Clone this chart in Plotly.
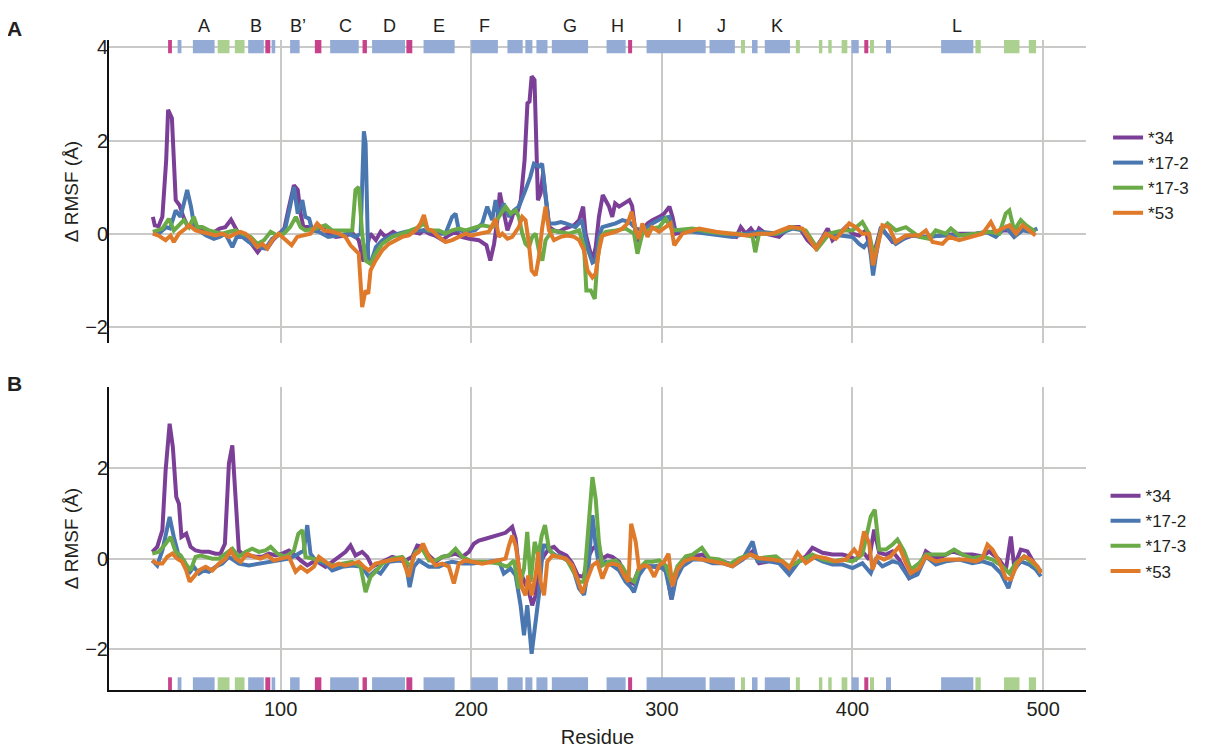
import plotly.graph_objects as go

# ---------------- Panel A data (residue, delta RMSF) ----------------
a34_x = [33, 34, 36, 38, 40, 41, 43, 44, 45, 47, 49, 51, 54, 57, 61, 64, 68, 71, 74, 76, 78, 82, 85, 88, 90, 93, 96, 99, 102, 104, 107, 109, 110.5, 112, 115, 118, 122, 125, 129, 134, 138, 141, 143.5, 147, 150, 152.5, 155, 159, 162, 166, 169, 173, 175, 178, 181, 185, 188, 192, 195, 199, 204, 208, 210, 212, 213.7, 215, 217, 219, 221, 222.5, 224, 226, 228, 229.5, 230.6, 231.7, 233.2, 234, 235, 236.4, 237.7, 239, 241, 243.5, 246, 249, 251, 254, 256.6, 258.7, 260, 262, 263.6, 265.3, 267, 269, 270.6, 272.3, 274, 275.5, 277.6, 280.2, 283, 284.4, 286.3, 288, 290, 292.5, 295, 298.6, 301.2, 304, 305.6, 307.4, 316, 325, 334, 339, 341.4, 344, 346.7, 349.3, 351, 354.5, 361.5, 367, 372, 376.4, 381, 384.3, 387, 389.5, 393, 396.5, 400, 403.5, 407, 410.5, 412.2, 415, 417.5, 421, 424.5, 431.5, 438.5, 445.5, 456, 464.7, 473.4, 478.7, 484, 489, 492.7, 496]
a34_y = [0.36, 0.18, 0.16, 0.36, 1.58, 2.66, 2.48, 1.58, 0.72, 0.61, 0.36, 0.18, 0.14, 0.11, 0.04, 0.0, 0.11, 0.14, 0.30, 0.14, 0.0, -0.07, -0.22, -0.40, -0.29, -0.32, -0.14, 0.0, 0.11, 0.50, 1.04, 0.94, 0.43, 0.14, 0.14, 0.07, 0.14, 0.0, -0.07, -0.04, 0.0, -0.14, -0.6, 0.0, -0.14, 0.04, -0.07, 0.04, -0.04, 0.0, 0.04, 0.0, 0.07, 0.0, -0.04, -0.14, -0.04, 0.04, -0.07, -0.11, -0.14, -0.25, -0.58, -0.22, 0.29, 0.88, 0.43, 0.07, 0.29, 0.5, 0.43, 0.72, 1.58, 2.8, 2.84, 3.38, 3.3, 2.3, 0.72, 0.86, 1.3, 0.79, 0.14, 0.07, 0.04, 0.11, 0.14, 0.18, 0.29, 0.58, 0.0, -0.29, -0.58, -0.29, 0.36, 0.83, 0.72, 0.58, 0.36, 0.65, 0.58, 0.65, 0.72, 0.6, 0.0, -0.18, 0.07, 0.22, 0.29, 0.36, 0.43, 0.58, 0.36, 0.0, 0.07, 0.04, -0.04, -0.07, 0.14, 0.0, 0.11, -0.04, 0.11, 0.0, -0.07, 0.14, 0.14, -0.14, -0.32, -0.07, 0.11, -0.14, 0.0, 0.14, 0.0, -0.04, 0.07, -0.58, -0.29, 0.14, 0.0, -0.18, -0.14, -0.04, -0.07, -0.04, 0.0, 0.0, 0.04, 0.07, 0.07, 0.11, 0.07, 0.04]

a172_x = [33, 36, 40, 42, 45, 47.5, 49.3, 51, 53, 54.5, 57, 61, 65, 68, 71, 74.7, 77, 80, 83.4, 88, 92, 95.6, 100, 102.6, 105, 107, 109, 111.4, 113, 115, 116.6, 120, 125, 130.6, 136, 139, 142, 143.7, 144.6, 146, 147.2, 150, 153.5, 158.6, 165.6, 172.6, 177.8, 183, 186.5, 190, 191.8, 193.5, 197, 202, 205.8, 208.4, 211, 212.8, 214.5, 217, 219.8, 222.4, 225, 228.5, 231, 232.9, 235.5, 237.2, 239, 240.7, 244, 247, 249.5, 254.7, 258, 260.8, 263.6, 265.3, 267, 268.8, 272.3, 275.8, 279.3, 283, 286.3, 289.8, 295, 299.5, 303.9, 306.5, 316, 325, 337, 344, 351, 361.5, 368.5, 373.8, 380.8, 386, 394.8, 400, 403.5, 406, 408.7, 410.8, 412.2, 415, 417.5, 422.7, 429.7, 438.5, 447.2, 456, 464.7, 470, 475.2, 480.4, 484.8, 489.2, 492.7, 497]
a172_y = [0.0, 0.0, 0.14, 0.11, 0.5, 0.36, 0.65, 0.94, 0.58, 0.22, 0.07, -0.04, -0.11, -0.07, 0.0, -0.29, -0.07, -0.07, -0.18, -0.29, -0.32, -0.11, 0.0, 0.14, 0.58, 1.0, 0.43, 0.72, 0.36, 0.32, 0.07, 0.04, -0.07, -0.04, 0.0, -0.07, 0.0, 2.2, 1.94, -0.58, -0.65, -0.29, -0.14, -0.04, 0.04, 0.07, 0.07, 0.0, 0.0, 0.36, 0.43, 0.07, 0.04, 0.07, 0.22, 0.58, 0.29, 0.72, 0.36, 0.65, 0.36, 0.5, 0.58, 0.94, 1.22, 1.5, 1.44, 1.5, 0.86, 0.22, 0.22, 0.25, 0.22, 0.14, 0.29, -0.29, -0.62, -0.58, -0.07, 0.14, 0.18, 0.22, 0.29, 0.25, 0.11, 0.07, 0.22, 0.32, 0.36, 0.07, 0.04, 0.0, -0.07, 0.0, 0.04, 0.0, 0.11, 0.07, -0.29, 0.0, -0.04, -0.07, -0.22, -0.29, -0.14, -0.9, -0.5, 0.14, 0.0, -0.22, -0.04, -0.07, -0.04, -0.04, 0.0, 0.04, -0.07, 0.14, -0.07, 0.07, 0.04, 0.11]

a173_x = [33, 38, 41.4, 44, 46.7, 49.3, 52, 54.5, 56.3, 59, 62.4, 66, 69.4, 73, 76.4, 80, 84.3, 87.8, 91.3, 94.8, 98.3, 101.7, 105, 108, 110.5, 113, 118.4, 123.6, 127, 132.3, 137.6, 139.3, 141, 142.8, 144.6, 147.2, 149.8, 153.3, 158.6, 163.8, 169, 172.6, 175, 177.8, 183, 186.5, 190, 193.5, 197, 200, 205.8, 211, 215.4, 218, 220.7, 223.3, 225, 226.8, 228.5, 230.3, 232, 233.8, 235.5, 237.3, 239, 242.6, 246, 251.3, 256.6, 259.2, 260.4, 262.7, 264.8, 266.2, 268, 270.6, 275.8, 281, 285.4, 287.2, 289.8, 295, 298.6, 302, 305.6, 316, 324.8, 333.6, 340.6, 347.6, 349, 351, 359.8, 368.5, 375.5, 381.6, 387.8, 394.8, 400, 405.2, 408.7, 411.4, 414.9, 418.4, 422.7, 428, 435, 440.2, 443.7, 449, 451.6, 456, 464.7, 471.7, 477, 480.4, 482.3, 484.8, 488.3, 491, 496]
a173_y = [0.04, 0.11, 0.32, 0.07, 0.18, 0.29, 0.14, 0.36, 0.14, 0.14, 0.07, 0.04, 0.0, 0.04, 0.07, 0.0, -0.07, -0.22, -0.14, 0.04, -0.04, 0.0, 0.14, 0.36, 0.14, 0.07, 0.11, 0.18, 0.07, 0.07, 0.07, 0.94, 1.0, 0.0, -0.58, -0.65, -0.43, -0.22, -0.07, 0.0, 0.07, 0.14, 0.22, 0.07, 0.07, 0.0, 0.07, 0.11, 0.07, 0.11, 0.18, 0.14, 0.43, 0.58, 0.43, 0.5, 0.36, 0.0, -0.22, -0.29, -0.07, 0.0, -0.36, -0.58, -0.14, 0.07, 0.04, 0.0, 0.07, -0.29, -1.22, -1.22, -1.4, -0.58, -0.07, 0.04, 0.07, 0.11, 0.0, -0.43, 0.0, 0.11, 0.14, 0.32, 0.07, 0.11, 0.04, 0.0, 0.0, -0.07, -0.4, 0.0, 0.0, 0.14, 0.07, -0.32, 0.0, 0.07, 0.07, 0.25, 0.0, -0.5, 0.07, 0.22, 0.07, 0.14, -0.07, -0.11, 0.07, 0.0, 0.11, -0.04, 0.0, 0.04, 0.0, 0.43, 0.5, 0.07, 0.29, 0.18, 0.04]

a53_x = [33, 36, 39.7, 42.3, 44, 46.7, 50.2, 52, 55.4, 59, 62.4, 66, 69.4, 73, 76.4, 79, 81.6, 85, 87.8, 90.4, 93, 95.6, 99, 102.6, 105.8, 108.7, 112.2, 115.7, 119.2, 122.7, 127, 130.6, 134, 136.7, 139.3, 141, 142.8, 144.6, 146, 147.2, 149.8, 153.3, 156.8, 160.3, 163.8, 167.3, 170.8, 173.4, 175.2, 177, 179.5, 183, 186.5, 190, 193.5, 197, 200, 204, 209.3, 212.8, 214.5, 216.3, 219, 221.5, 225, 226.8, 228.5, 230.3, 231.7, 233.8, 235.5, 237.3, 239, 240.8, 243.4, 246.9, 250.4, 254, 256.6, 259.2, 261, 263.6, 265.3, 267, 268.8, 272.3, 275.8, 279.3, 282, 284.2, 286.3, 288, 289.8, 292.5, 295, 298.6, 302, 304.6, 306.5, 310.8, 319.6, 328.3, 337, 344, 351, 358, 366.8, 373.8, 380.8, 386, 391.3, 398.3, 401.7, 405.2, 408.7, 410.8, 413.1, 415.7, 419.2, 422.7, 428, 435, 438.5, 442, 447.2, 450.7, 456, 463, 468.2, 472.6, 475.2, 478.7, 482.3, 485.8, 489.2, 492.7, 496]
a53_y = [0.0, -0.04, -0.14, -0.04, -0.18, 0.0, 0.11, 0.18, 0.07, 0.04, 0.0, -0.04, 0.0, -0.07, 0.0, 0.04, 0.0, -0.14, -0.29, -0.22, -0.32, -0.14, 0.0, -0.14, -0.25, -0.07, -0.04, 0.0, 0.22, 0.07, 0.04, 0.0, -0.07, -0.25, -0.36, -0.43, -1.58, -1.22, -1.29, -0.79, -0.58, -0.36, -0.22, -0.14, -0.07, -0.04, 0.07, 0.22, 0.4, 0.11, 0.07, -0.07, -0.18, -0.14, -0.07, 0.0, -0.04, 0.0, 0.04, 0.32, -0.07, 0.0, -0.11, -0.07, 0.14, 0.36, 0.29, -0.22, -0.79, -0.9, -0.5, 0.14, 0.58, 0.07, -0.14, -0.07, -0.04, -0.07, -0.14, -0.36, -0.79, -0.94, -0.86, -0.36, -0.04, 0.0, 0.04, 0.11, 0.22, 0.47, 0.07, -0.11, 0.22, -0.07, 0.14, 0.04, 0.14, 0.22, -0.25, 0.0, 0.11, 0.04, 0.0, -0.04, 0.0, 0.0, 0.14, 0.11, -0.32, 0.0, -0.11, 0.22, 0.14, 0.0, 0.0, -0.68, -0.29, 0.18, 0.14, -0.18, -0.04, -0.04, 0.07, -0.18, -0.22, -0.07, -0.14, -0.07, 0.0, 0.25, 0.04, 0.11, 0.18, 0.0, 0.18, 0.07, -0.04]

# ---------------- Panel B data ----------------
b34_x = [32.7, 35.3, 38, 39.7, 41.8, 43.5, 45.3, 46.7, 48, 50.5, 52.8, 55.4, 58.9, 62.4, 65.9, 68.5, 70.8, 72.9, 74.7, 76.4, 78.1, 80.8, 83.4, 86.9, 90.4, 93.9, 97.4, 100.9, 104.4, 107.9, 110.5, 114, 118.4, 123.6, 127.1, 130.6, 134.1, 136.7, 139.3, 142.8, 145.5, 148.1, 151.6, 155.1, 158.6, 162.1, 165.6, 169.1, 171.7, 174.3, 177.8, 181.3, 184.8, 188.3, 191.8, 195.3, 198.8, 201.4, 204, 207.5, 211, 214.5, 218, 221.5, 223.3, 225, 227.7, 230.3, 232, 233.8, 235.5, 238.2, 240.8, 243.4, 246, 250, 253, 256, 259, 261, 263.6, 266.2, 268.8, 271.5, 274, 277.6, 280.2, 282.5, 285, 288, 291.6, 295, 298.6, 302, 305, 307.3, 310.8, 316, 321.3, 326.6, 331.8, 337, 342.3, 347.6, 351, 356.3, 361.5, 366.8, 372, 375.5, 379, 384.3, 389.5, 394.8, 398.3, 401.7, 405.2, 408.7, 411.4, 414, 417.5, 421, 424.5, 429.7, 434.1, 438.5, 443.7, 447.2, 452.4, 457.7, 462.9, 468.2, 471.7, 477, 480.5, 483.1, 484.8, 488.3, 491.8, 495.3, 498.8]
b34_y = [0.15, 0.26, 0.63, 1.95, 2.98, 2.46, 1.36, 1.21, 0.48, 0.55, 0.26, 0.18, 0.15, 0.15, 0.11, 0.11, 0.33, 2.1, 2.5, 1.36, 0.18, 0.07, 0.07, 0.04, 0.04, 0.11, 0.07, 0.11, 0.18, 0.07, -0.04, -0.15, -0.04, -0.18, -0.07, 0.04, 0.15, 0.29, 0.07, 0.15, 0.04, -0.18, -0.11, -0.04, 0.04, 0.0, -0.04, 0.04, 0.29, 0.26, 0.07, -0.07, 0.04, 0.07, 0.11, 0.04, 0.15, 0.33, 0.4, 0.44, 0.48, 0.51, 0.57, 0.7, 0.44, -0.22, -0.51, -0.74, -1.03, -0.81, -0.15, 0.07, 0.22, 0.26, 0.15, 0.07, -0.1, -0.38, -0.4, 0.0, 0.22, 0.29, 0.0, 0.07, 0.04, -0.07, -0.29, -0.5, -0.55, -0.22, -0.17, -0.17, -0.2, -0.17, -0.9, -0.39, -0.1, 0.05, 0.09, -0.06, -0.06, -0.13, -0.02, 0.16, -0.1, -0.06, -0.06, -0.24, -0.06, 0.05, 0.24, 0.13, 0.09, 0.09, 0.05, -0.02, 0.16, -0.02, 0.64, 0.13, 0.09, 0.16, -0.02, -0.43, -0.32, 0.16, 0.01, 0.05, 0.16, 0.09, 0.09, 0.05, 0.16, -0.02, -0.24, 0.49, -0.17, 0.2, 0.16, -0.1, -0.28]

b172_x = [32.7, 35.3, 38, 39.7, 41.8, 44, 46.7, 49.3, 51.9, 54.5, 57.2, 59.8, 62.4, 65.9, 69.4, 72.9, 75.5, 78.1, 83.4, 88.6, 93.9, 99.1, 104.4, 107.9, 110.5, 112.2, 114, 115.7, 118.4, 123.6, 127.1, 132.3, 137.6, 142.8, 146.3, 149.8, 152.4, 156.8, 162.1, 165.6, 167.7, 169.9, 172.6, 177.8, 183, 186.5, 190, 195.3, 200.5, 207.5, 214.5, 217.1, 220.6, 223.3, 225.9, 227.7, 229.4, 231.7, 233.8, 235.5, 237.7, 239, 241.7, 244.3, 247.8, 251.3, 253.9, 256.6, 259.2, 261.5, 263.6, 265.3, 267, 270.6, 274, 277.6, 281, 283.7, 285.4, 288, 291.6, 295, 298.6, 302, 305.2, 307.3, 310.8, 316.1, 321.3, 326.6, 331.8, 337.1, 342.3, 347.6, 350.2, 356.3, 361.5, 366.8, 372, 379, 384.3, 389.5, 394.8, 400, 405.2, 409.6, 412.2, 415.7, 421, 424.5, 429.7, 434.1, 438.5, 443.7, 449, 456, 462.9, 468.2, 473.4, 477.8, 481.8, 484.8, 488.3, 492.7, 496.2, 498.8]
b172_y = [-0.04, -0.15, 0.18, 0.55, 0.92, 0.48, 0.04, -0.04, -0.33, -0.18, -0.33, -0.26, -0.29, -0.18, -0.11, 0.04, -0.04, -0.11, -0.15, -0.11, -0.07, -0.04, 0.0, 0.07, 0.15, 0.18, 0.74, 0.11, -0.04, -0.11, -0.26, -0.18, -0.15, -0.18, -0.4, -0.26, -0.33, -0.07, -0.04, -0.07, -0.63, -0.18, -0.04, -0.18, -0.18, -0.11, -0.07, -0.11, -0.11, -0.07, -0.04, -0.33, -0.22, -0.37, -1.03, -1.69, -1.03, -2.1, -1.32, -0.81, 0.29, 0.29, 0.15, 0.07, 0.04, -0.07, -0.29, -0.66, -0.8, -0.22, 0.96, 0.29, -0.15, -0.07, -0.15, -0.26, -0.51, -0.63, -0.74, -0.37, -0.15, -0.18, -0.15, -0.28, -0.9, -0.46, -0.17, -0.02, -0.02, -0.1, -0.1, -0.17, -0.02, 0.38, -0.06, -0.06, -0.1, -0.35, -0.06, 0.05, -0.06, -0.13, -0.13, -0.21, -0.1, -0.32, -0.02, -0.17, -0.06, -0.1, -0.43, -0.35, 0.05, -0.13, -0.06, -0.02, -0.1, -0.06, -0.13, -0.32, -0.65, -0.24, -0.06, -0.13, -0.24, -0.39]

b173_x = [32.7, 36.2, 39.7, 42.3, 44.9, 47.6, 50.2, 52.8, 55.4, 58, 60.7, 64.2, 67.7, 71.2, 74.7, 78.1, 81.6, 85.1, 88.6, 92.1, 94.8, 98.3, 102.6, 107, 109.3, 111.4, 113.1, 116.6, 121.9, 127.1, 132.3, 137.6, 142, 144.6, 147.2, 149.8, 153.3, 158.6, 163.8, 168.2, 170.8, 174.3, 177.8, 181.3, 184.8, 188.3, 191.8, 195.3, 200.5, 207.5, 214.5, 218.9, 222.4, 225, 227.7, 229.4, 231.2, 233.3, 235.2, 237, 238.7, 240.8, 243.4, 246.9, 250.4, 253.9, 256.6, 259.2, 261.5, 263.6, 265.3, 267, 268.8, 272.3, 275.8, 279.3, 282.8, 285.5, 288, 291.6, 295, 298.6, 302, 305.2, 308.2, 312.6, 316.1, 321, 324.8, 330.1, 335.3, 340.6, 345.8, 351, 359.8, 366.8, 372, 379, 384.3, 389.5, 394.8, 400, 405.2, 409.6, 411.7, 414, 417.5, 421, 423.6, 427.1, 430.6, 435, 438.5, 443.7, 449, 453.3, 457.7, 462.9, 468.2, 473.4, 478.7, 482.2, 485.7, 490.1, 494.5, 498.8]
b173_y = [0.11, 0.15, 0.33, 0.48, 0.15, 0.07, -0.11, -0.26, 0.04, 0.07, 0.04, 0.0, 0.0, 0.11, 0.22, 0.04, 0.15, 0.22, 0.15, 0.18, 0.26, 0.11, 0.04, 0.18, 0.55, 0.63, 0.04, 0.0, -0.04, -0.15, -0.11, -0.07, -0.18, -0.74, -0.4, -0.29, -0.11, 0.0, 0.04, -0.18, 0.15, 0.22, -0.04, -0.04, 0.04, 0.07, 0.22, 0.04, -0.07, -0.07, -0.11, -0.18, -0.04, -0.66, -0.22, 0.59, -0.51, 0.37, 0.07, 0.51, 0.74, 0.22, 0.07, 0.04, -0.04, -0.33, -0.51, -0.51, 0.66, 1.8, 1.32, 0.37, -0.15, -0.07, -0.04, -0.18, -0.44, -0.51, -0.22, -0.07, -0.07, -0.04, -0.15, -0.54, -0.17, 0.05, 0.09, 0.24, 0.01, -0.02, -0.13, 0.01, 0.09, 0.01, 0.05, -0.17, -0.06, 0.09, -0.02, -0.06, -0.02, -0.06, 0.09, 0.93, 1.08, 0.2, 0.2, 0.31, 0.42, 0.16, -0.24, -0.1, 0.09, 0.09, 0.09, 0.2, 0.09, 0.01, 0.05, -0.02, -0.17, -0.32, -0.1, 0.05, -0.1, -0.28]

b53_x = [32.7, 35.3, 38, 40.6, 43.2, 45.8, 48.4, 50.5, 52.3, 54.5, 57.2, 60.7, 64.2, 67.7, 71.2, 73.8, 76.4, 79, 82.5, 86, 89.5, 93, 96.5, 100, 104.4, 107.9, 110.5, 114, 117.5, 120.1, 123.6, 127.1, 130.6, 134.1, 137.6, 141.1, 143.7, 146.3, 149.8, 153.3, 156.8, 160.3, 163.8, 167.3, 169.9, 172.6, 174.7, 177.8, 181.3, 184.8, 188.3, 190.9, 193.5, 197, 200.5, 205.8, 211, 214.5, 218, 219.8, 221.5, 223.3, 225, 226.8, 228.5, 229.9, 231.7, 233.8, 235.2, 236.4, 238.2, 239.9, 242.6, 246.1, 249.6, 253.1, 255.7, 258.3, 261, 263.6, 266.2, 268.8, 271.5, 274, 277.6, 280.2, 282.5, 283.9, 286.3, 288, 290.7, 293.3, 296, 298.6, 301.2, 303.5, 305.6, 308.2, 311.7, 316.1, 321.3, 326.6, 331.8, 337.1, 341.4, 346.7, 351, 358, 363.3, 366.8, 371.2, 375.5, 380.8, 386, 391.3, 396.5, 400.9, 403.5, 406.1, 408.7, 410.5, 413.1, 416.6, 420.1, 424.5, 428, 430.6, 435, 438.5, 443.7, 449, 454.2, 459.4, 464.7, 468.2, 470.8, 473.4, 477, 480.4, 483.1, 486.6, 490.1, 493.6, 497.1, 498.8]
b53_y = [-0.04, -0.11, -0.11, 0.04, 0.11, 0.0, -0.07, -0.26, -0.51, -0.4, -0.26, -0.18, -0.26, -0.11, 0.0, 0.18, 0.0, -0.07, 0.11, 0.04, 0.0, 0.07, -0.04, 0.0, 0.04, -0.29, -0.18, -0.29, -0.18, 0.04, -0.07, -0.18, -0.11, -0.15, -0.11, -0.07, -0.18, -0.26, -0.11, -0.07, -0.04, -0.02, 0.0, -0.4, 0.07, 0.15, 0.33, 0.04, -0.15, -0.11, -0.18, -0.55, -0.11, -0.04, -0.07, -0.11, -0.07, -0.04, 0.0, 0.29, 0.51, 0.29, -0.22, -0.66, -0.81, -0.37, -0.81, -0.37, 0.15, -0.51, -0.81, -0.07, 0.07, 0.04, 0.0, -0.15, -0.44, -0.76, -0.44, -0.15, -0.07, -0.44, -0.15, -0.11, -0.15, -0.37, -0.51, 0.77, 0.37, -0.22, -0.15, -0.18, -0.4, -0.15, -0.07, 0.11, -0.61, -0.24, -0.06, 0.01, -0.02, -0.06, -0.1, -0.17, -0.02, 0.09, 0.01, -0.02, -0.06, -0.21, 0.13, -0.1, 0.05, 0.01, -0.06, -0.02, 0.2, 0.05, 0.6, 0.35, -0.24, 0.05, -0.02, 0.05, 0.27, -0.1, -0.32, -0.21, 0.05, -0.06, -0.02, -0.02, -0.02, -0.06, 0.01, 0.31, 0.2, -0.06, -0.43, -0.46, -0.1, 0.05, -0.02, -0.17, -0.32]

# ---------------- Secondary-structure elements ----------------
ss_start = [41, 46, 54, 67, 76, 83, 92, 95.3, 105, 118, 126, 143, 148, 166, 175, 200, 219, 228.4, 234.2, 242.3, 271, 282.3, 292, 325, 341.5, 347.3, 354, 370.3, 382.4, 387.3, 394.3, 399.6, 406.2, 409.2, 417.6, 446.5, 464.5, 479.5, 492.5]
ss_end = [43, 48, 65.4, 73.2, 81.1, 91.2, 94.6, 97.2, 110, 121.4, 141, 145.3, 165.3, 169.1, 191.3, 214, 227, 232.1, 240, 261.3, 281, 284.4, 323, 338.3, 343.6, 350.2, 367.2, 372.4, 384.2, 389.1, 397.3, 403.3, 408.3, 411.3, 420.2, 463.4, 467.3, 487.6, 496.3]
ss_kind = ["t", "h", "h", "s", "s", "h", "t", "h", "h", "t", "h", "t", "h", "t", "h", "h", "h", "h", "h", "h", "h", "t", "h", "h", "s", "h", "h", "s", "s", "s", "s", "h", "t", "s", "h", "h", "s", "s", "s"]
ss_colors = {"h": "#94abd5", "s": "#abd08f", "t": "#c8428b"}

helix_names = ["A", "B", "B\u2019", "C", "D", "E", "F", "G", "H", "I", "J", "K", "L"]
helix_pos = [60, 87, 109, 134, 157, 183, 207, 252, 277, 309, 331.5, 360.5, 455]

series_names = ["*34", "*17-2", "*17-3", "*53"]
series_colors = ["#7b3f98", "#4a77b0", "#6aab47", "#e07a2b"]

FONT = "Liberation Sans, Arial, sans-serif"
TXT = "#231f20"

fig = go.Figure()

panelA = [(a34_x, a34_y), (a172_x, a172_y), (a173_x, a173_y), (a53_x, a53_y)]
panelB = [(b34_x, b34_y), (b172_x, b172_y), (b173_x, b173_y), (b53_x, b53_y)]

for (xs, ys), name, col in zip(panelA, series_names, series_colors):
    fig.add_trace(go.Scatter(x=xs, y=ys, mode="lines", name=name,
                             line=dict(color=col, width=4),
                             xaxis="x", yaxis="y", legend="legend"))
for (xs, ys), name, col in zip(panelB, series_names, series_colors):
    fig.add_trace(go.Scatter(x=xs, y=ys, mode="lines", name=name,
                             line=dict(color=col, width=4),
                             xaxis="x2", yaxis="y2", legend="legend2"))

# secondary-structure bars
shapes = []
for s, e, k in zip(ss_start, ss_end, ss_kind):
    shapes.append(dict(type="rect", xref="x", yref="y", x0=s, x1=e, y0=3.875, y1=4.16,
                       fillcolor=ss_colors[k], line=dict(width=0), layer="above"))
    shapes.append(dict(type="rect", xref="x2", yref="y2", x0=s, x1=e, y0=-2.62, y1=-2.90,
                       fillcolor=ss_colors[k], line=dict(width=0), layer="above"))

annotations = []
for nm, p in zip(helix_names, helix_pos):
    annotations.append(dict(text=nm, x=p, y=1.022, xref="x", yref="paper", showarrow=False,
                            font=dict(family=FONT, size=18, color=TXT), xanchor="center", yanchor="middle"))
annotations.append(dict(text="<b>A</b>", x=-0.106, y=1.018, xref="paper", yref="paper", showarrow=False,
                        font=dict(family=FONT, size=21, color=TXT), xanchor="left", yanchor="middle"))
annotations.append(dict(text="<b>B</b>", x=-0.106, y=0.471, xref="paper", yref="paper", showarrow=False,
                        font=dict(family=FONT, size=21, color=TXT), xanchor="left", yanchor="middle"))

grid = "#c9c9c7"
common_x = dict(range=[10, 522.5], tickvals=[100, 200, 300, 400, 500], showgrid=True,
                gridcolor=grid, gridwidth=2, zeroline=False, ticks="", automargin=False)
common_y = dict(showgrid=True, gridcolor=grid, gridwidth=2, zeroline=False, ticks="",
                showline=True, linecolor="#111", linewidth=2, automargin=False,
                ticklabelstandoff=-5,
                tickfont=dict(family=FONT, size=20, color=TXT),
                title=dict(text="\u0394 RMSF (\u00c5)", font=dict(family=FONT, size=19, color=TXT), standoff=2))

# The page body adds an 8 px offset, so the figure is 8 px smaller and margins shifted.
fig.update_layout(
    width=1200, height=740,
    margin=dict(l=101, r=122, t=32, b=58, autoexpand=False),
    plot_bgcolor="white", paper_bgcolor="white",
    font=dict(family=FONT, color=TXT),
    xaxis=dict(domain=[0, 1], anchor="y", showticklabels=False, showline=False, **common_x),
    yaxis=dict(domain=[0.5338, 1], anchor="x", range=[-2.35, 4.16], tickvals=[-2, 0, 2, 4], **common_y),
    xaxis2=dict(domain=[0, 1], anchor="y2", showticklabels=True, showline=True, linecolor="#111", linewidth=2,
                tickfont=dict(family=FONT, size=20, color=TXT),
                title=dict(text="Residue", font=dict(family=FONT, size=20, color=TXT), standoff=12),
                **common_x),
    yaxis2=dict(domain=[0, 0.4662], anchor="x2", range=[-2.90, 3.79], tickvals=[-2, 0, 2], **common_y),
    shapes=shapes,
    annotations=annotations,
    legend=dict(x=1.0226, y=0.877, xanchor="left", yanchor="top", font=dict(family=FONT, size=17, color=TXT),
                bgcolor="rgba(0,0,0,0)", itemwidth=30, tracegroupgap=0),
    legend2=dict(x=1.020, y=0.326, xanchor="left", yanchor="top", font=dict(family=FONT, size=17, color=TXT),
                 bgcolor="rgba(0,0,0,0)", itemwidth=30, tracegroupgap=0),
)

fig.write_html("out.html")
